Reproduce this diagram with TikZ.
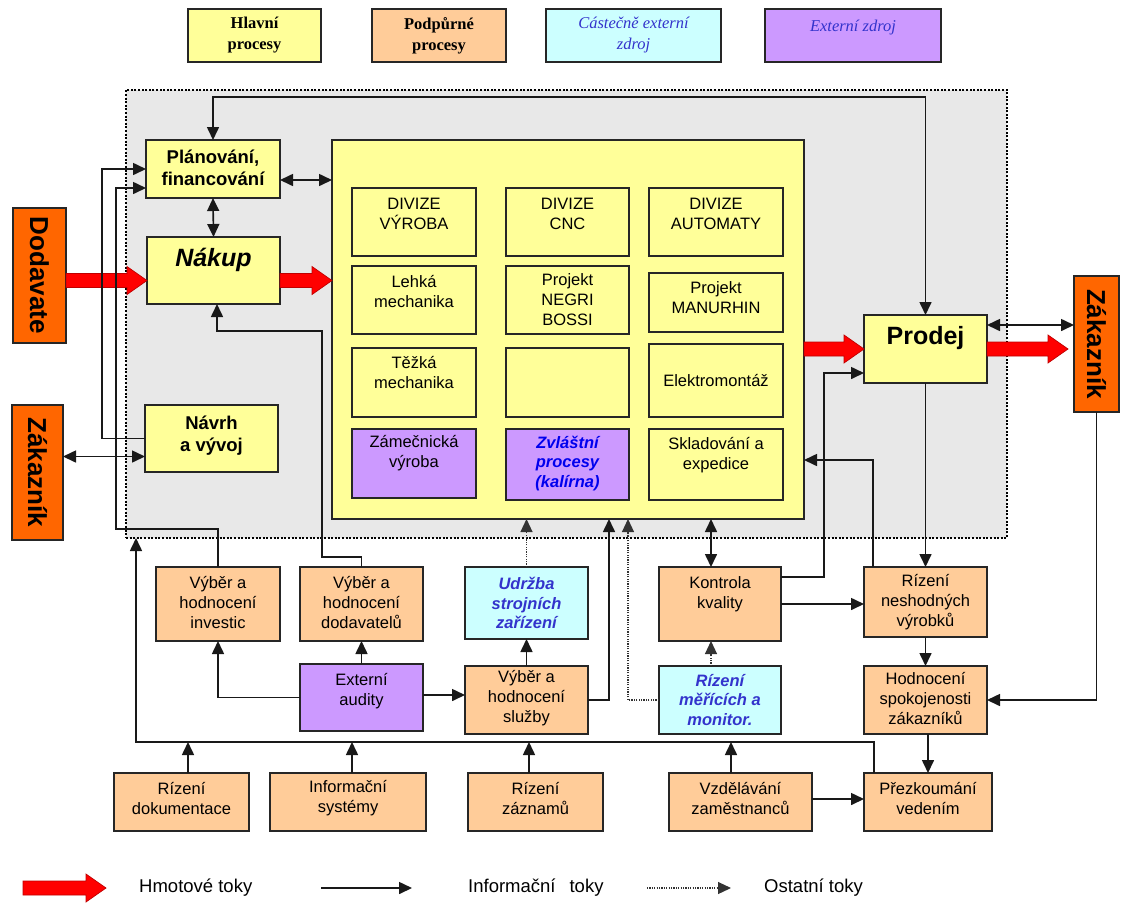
\documentclass[tikz,border=0pt]{standalone}
\usepackage{fontspec}
\setmainfont{Liberation Sans}
\newfontfamily\legserif{Liberation Serif}
\usetikzlibrary{arrows.meta,calc}
\definecolor{hy}{HTML}{FFFF99}
\definecolor{po}{HTML}{FFCC99}
\definecolor{cy}{HTML}{CCFFFF}
\definecolor{pu}{HTML}{CC99FF}
\definecolor{dor}{HTML}{FF6600}
\definecolor{gr}{HTML}{E8E8E8}
\definecolor{bl}{HTML}{3333CC}
\definecolor{bb}{HTML}{0000EE}
\definecolor{rd}{HTML}{FF0000}
\tikzset{
  bxs/.style={rectangle, draw=black!85, line width=1.4pt, inner sep=0pt, outer sep=0pt},
  Y/.style={bxs, fill=hy}, P/.style={bxs, fill=po}, C/.style={bxs, fill=cy},
  V/.style={bxs, fill=pu}, O/.style={bxs, fill=dor},
  tx/.style={align=center, inner sep=0pt, font=\fontsize{16.5}{20}\selectfont},
  tb/.style={tx, font=\fontsize{18.5}{22.5}\selectfont\bfseries},
  tbig/.style={tx, font=\fontsize{25}{30}\selectfont\bfseries\itshape},
  tbig2/.style={tx, font=\fontsize{25}{30}\selectfont\bfseries},
  tbi/.style={tx, font=\fontsize{16.5}{19.5}\selectfont\bfseries\itshape, text=bl},
  tbb/.style={tx, font=\fontsize{16.5}{19.5}\selectfont\bfseries\itshape, text=bb},
  tv/.style={tx, rotate=-90, font=\fontsize{26}{30}\selectfont\bfseries},
  tls/.style={tx, font=\legserif\fontsize{16.5}{21}\selectfont\bfseries},
  tli/.style={tx, font=\legserif\fontsize{16.5}{21}\selectfont\itshape, text=bl},
  tleg/.style={inner sep=0pt, font=\fontsize{18.5}{22}\selectfont},
  arr/.style={line width=1.6pt, black!90, -{Triangle[length=13pt,width=12pt]}},
  arr2/.style={line width=1.6pt, black!90, {Triangle[length=13pt,width=12pt]}-{Triangle[length=13pt,width=12pt]}},
  darr/.style={line width=1.2pt, black!80, dash pattern=on 1.2pt off 1.2pt, -{Triangle[length=13pt,width=12pt]}},
  redar/.style={fill=rd, draw=rd!75!black, line width=0.7pt},
}
\newcommand{\bxe}[6]{\node[#1, minimum width={#5-#3}, minimum height={#6-#4}] (#2) at ({(#3+#5)/2},{(#4+#6)/2}) {};}
\newcommand{\bx}[9][tx]{\bxe{#2}{#3}{#4}{#5}{#6}{#7}\node[#1] (#3t) at ([yshift=#8pt]#3.center) {#9};}
\newcommand{\redarr}[2]{\draw[redar] let \p1=(#1), \p2=(#2) in (\x1,{\y1+7pt}) -- ({\x2-20pt},{\y1+7pt}) -- ({\x2-20pt},{\y1+14pt}) -- (\x2,\y1) -- ({\x2-20pt},{\y1-14pt}) -- ({\x2-20pt},{\y1-7pt}) -- (\x1,{\y1-7pt}) -- cycle;}
\begin{document}
\begin{tikzpicture}[x=1pt,y=-1pt]
\useasboundingbox (0,0) rectangle (1122,903);
% legend top
\bx[tls]{Y}{lg1}{188}{9}{321}{62}{0}{Hlavní\\procesy}
\bx[tls]{P}{lg2}{372}{9}{506}{62}{0}{Podpůrné\\procesy}
\bx[tli]{C}{lg3}{546}{9}{721}{62}{0}{Cástečně externí\\zdroj}
\bx[tli]{V}{lg4}{765}{9}{941}{62}{8}{Externí zdroj}
% gray region
\node[draw=black, fill=gr, line width=2pt, dash pattern=on 2pt off 1.6pt, minimum width=881, minimum height=448, inner sep=0pt, outer sep=0pt] (gray) at (566.5,314) {};
% left column
\bx[tb]{Y}{plan}{146}{140}{280}{198}{1}{Plánování,\\financování}
\bx[tbig]{Y}{nakup}{147}{237}{280}{304}{11}{Nákup}
\bx[tb]{Y}{navrh}{145}{405}{278}{472}{3}{Návrh\\a vývoj}
\bx[tv]{O}{dod}{13}{208}{66}{343}{0}{Dodavate}
\bx[tv]{O}{zakL}{12}{405}{63}{540}{0}{Zákazník}
\bx[tv]{O}{zakR}{1074}{276}{1119}{412}{0}{Zákazník}
% main block
\bxe{Y}{main}{332}{140}{804}{519}
\bx{Y}{vyroba}{352}{188}{476}{256}{8}{DIVIZE\\VÝROBA}
\bx{Y}{cnc}{506}{188}{629}{256}{8}{DIVIZE\\CNC}
\bx{Y}{autom}{649}{188}{783}{256}{8}{DIVIZE\\AUTOMATY}
\bx{Y}{lehka}{352}{266}{476}{334}{8.5}{Lehká\\mechanika}
\bx{Y}{negri}{506}{266}{629}{334}{0}{Projekt\\NEGRI\\BOSSI}
\bx{Y}{manur}{649}{273}{783}{332}{4.5}{Projekt\\MANURHIN}
\bx{Y}{tezka}{352}{348}{476}{417}{10}{Těžká\\mechanika}
\bxe{Y}{empty}{506}{348}{629}{417}
\bx{Y}{elektro}{649}{344}{783}{417}{0}{Elektromontáž}
\bx{V}{zamec}{352}{429}{476}{498}{10}{Zámečnická\\výroba}
\bx[tbb]{V}{zvlast}{506}{429}{629}{500}{1}{Zvláštní\\procesy\\(kalírna)}
\bx{Y}{sklad}{649}{429}{783}{500}{9.5}{Skladování a\\expedice}
\bx[tbig2]{Y}{prodej}{864}{315}{987}{383}{11}{Prodej}
% lower boxes
\bx{P}{invest}{156}{567}{280}{641}{2}{Výběr a\\hodnocení\\investic}
\bx{P}{dodav}{300}{567}{423}{641}{2}{Výběr a\\hodnocení\\dodavatelů}
\bx[tbi]{C}{udrzba}{465}{567}{588}{639}{0}{Udržba\\strojních\\zařízení}
\bx{P}{kontrola}{659}{567}{781}{641}{10}{Kontrola\\kvality}
\bx{P}{neshod}{864}{567}{987}{637}{0}{Rízení\\neshodných\\výrobků}
\bx{V}{audit}{300}{664}{423}{731}{6.5}{Externí\\audity}
\bx{P}{sluzby}{465}{666}{588}{734}{2}{Výběr a\\hodnocení\\služby}
\bx[tbi]{C}{meric}{659}{666}{781}{734}{0}{Rízení\\měřících a\\monitor.}
\bx{P}{spokoj}{864}{666}{987}{734}{1.5}{Hodnocení\\spokojenosti\\zákazníků}
\bx{P}{dokum}{114}{773}{249}{831}{3.5}{Rízení\\dokumentace}
\bx{P}{infsys}{270}{773}{426}{831}{3.5}{Informační\\systémy}
\bx{P}{zaznam}{468}{773}{603}{831}{3.5}{Rízení\\záznamů}
\bx{P}{vzdel}{669}{773}{812}{831}{3.5}{Vzdělávání\\zaměstnanců}
\bx{P}{prezk}{864}{773}{992}{831}{3.5}{Přezkoumání\\vedením}
% red material flows
\coordinate (r1) at ([yshift=-10pt]nakup.west);
\redarr{dod.east |- r1}{r1}
\coordinate (r2) at ([yshift=-10pt]nakup.east);
\redarr{r2}{main.west |- r2}
\redarr{main.east |- prodej.west}{prodej.west}
\coordinate (r4a) at (zakR.west |- prodej.east);
\coordinate (r4) at ([xshift=-6pt]r4a);
\redarr{prodej.east}{r4}
% information flows
\coordinate (top) at (0,97);
\draw[arr2] (plan.north) -- (plan.north |- top) -| (prodej.north);
\coordinate (pm) at ([yshift=-11pt]plan.east);
\draw[arr2] (pm) -- (pm -| main.west);
\draw[arr2] (plan.south) -- (nakup.north);
\coordinate (c1) at (102,0);
\draw[arr] (navrh.west) -- (navrh.west -| c1) -- (c1 |- plan.west) -- (plan.west);
\coordinate (c2) at (116,529);
\coordinate (pl2) at ([yshift=-19pt]plan.west);
\draw[arr] (invest.north) -- (invest.north |- c2) -- (c2) -- (c2 |- pl2) -- (pl2);
\coordinate (nz) at ([yshift=-18pt]navrh.west);
\draw[arr2] (nz) -- (nz -| zakL.east);
\coordinate (d1) at (322,557);
\coordinate (d2) at (322,331);
\coordinate (nk) at ([xshift=3.5pt]nakup.south);
\draw[arr] (dodav.north) -- (dodav.north |- d1) -- (d1) -- (d2) -- (d2 -| nk) -- (nk);
\coordinate (g1) at (136,742);
\coordinate (p0) at ([xshift=10pt]prezk.north west);
\draw[arr] (p0) |- (g1) -- (g1 |- gray.south);
\coordinate (b1) at ([xshift=6.5pt]dokum.north);
\coordinate (b2) at ([xshift=4pt]infsys.north);
\coordinate (b3) at ([xshift=-6.5pt]zaznam.north);
\coordinate (b4) at ([xshift=-9.5pt]vzdel.north);
\draw[arr] (b1) -- (b1 |- g1);
\draw[arr] (b2) -- (b2 |- g1);
\draw[arr] (b3) -- (b3 |- g1);
\draw[arr] (b4) -- (b4 |- g1);
\coordinate (vp) at ([yshift=3pt]vzdel.east);
\draw[arr] (vp) -- (vp -| prezk.west);
\draw[arr] (audit.west) -| (invest.south);
\draw[arr] (audit.north) -- (dodav.south);
\coordinate (a3) at ([yshift=2.5pt]audit.east);
\draw[arr] (a3) -- (a3 -| sluzby.west);
\draw[arr] (sluzby.north) -- (udrzba.south);
\draw[darr] (udrzba.north) -- (udrzba.north |- main.south);
\coordinate (s1) at (609,0);
\draw[arr] (sluzby.east) -| (s1 |- main.south);
\coordinate (m1) at (628,0);
\draw[darr] (meric.west) -| (m1 |- main.south);
\coordinate (kx) at ([xshift=-9pt]kontrola.north);
\draw[arr2] (kx) -- (kx |- main.south);
\coordinate (mx) at ([xshift=-9pt]meric.north);
\coordinate (kxs) at ([xshift=-9pt]kontrola.south);
\draw[darr] (mx) -- (kxs);
\coordinate (k0) at ([yshift=27pt]kontrola.east);
\coordinate (k1) at (824,0);
\coordinate (kp) at ([yshift=-24pt]prodej.west);
\draw[arr] (k0) -- (k0 -| k1) |- (kp);
\draw[arr] (kontrola.east) -- (kontrola.east -| neshod.west);
\coordinate (n0) at ([xshift=9pt]neshod.north west);
\coordinate (m460) at (0,460);
\draw[arr] (n0) |- (main.east |- m460);
\draw[arr] (prodej.south) -- (neshod.north);
\coordinate (pz) at ([yshift=24pt]prodej.east);
\draw[arr2] (pz) -- (pz -| zakR.west);
\draw[arr] (zakR.south) |- (spokoj.east);
\draw[arr] (neshod.south) -- (spokoj.north);
\draw[arr] (spokoj.south -| prezk.north) -- (prezk.north);
% legend bottom
\coordinate (la1) at (23,888);
\coordinate (la2) at (106,888);
\redarr{la1}{la2}
\node[tleg, anchor=west] (lt1) at (139,888) {Hmotové toky};
\coordinate (lb1) at (321,888);
\coordinate (lb2) at (412,888);
\draw[arr] (lb1) -- (lb2);
\node[tleg, anchor=west] (lt2) at (468,888) {Informační\hspace{14pt}toky};
\coordinate (lc1) at (647,888);
\coordinate (lc2) at (731,888);
\draw[darr] (lc1) -- (lc2);
\node[tleg, anchor=west] (lt3) at (764,888) {Ostatní toky};
\end{tikzpicture}
\end{document}
